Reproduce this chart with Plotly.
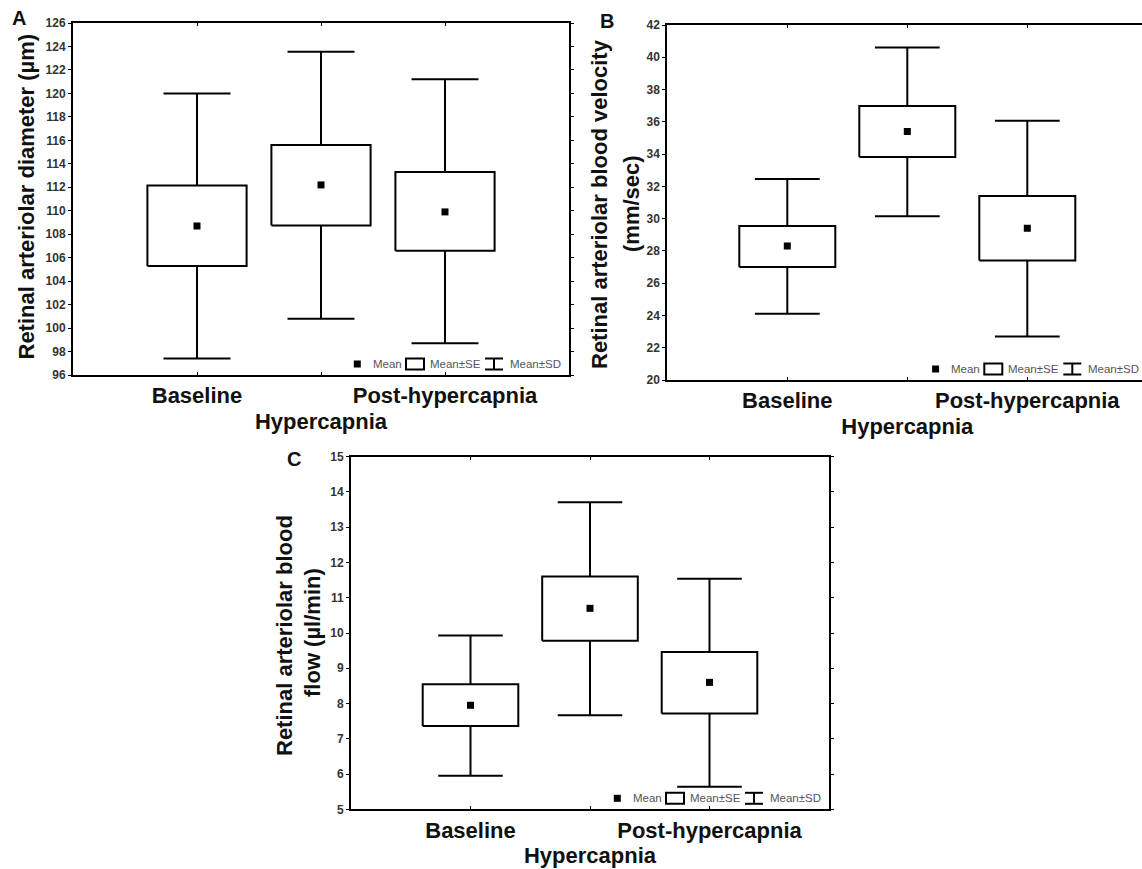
import plotly.graph_objects as go

W, H = 1142, 869

categories = ["Baseline", "Hypercapnia", "Post-hypercapnia"]
cat_pos = [0, 1, 2]
# staggered tick labels: first row (Baseline, Post-hypercapnia), second row (Hypercapnia)
row1_text = ["Baseline", "", "Post-hypercapnia"]
row2_pos = [1]
row2_text = ["Hypercapnia"]

# Panel A: retinal arteriolar diameter (µm)
diam_mean = [108.7, 112.2, 109.9]
diam_se_lo = [105.3, 108.75, 106.6]
diam_se_hi = [112.15, 115.6, 113.3]
diam_sd_lo = [97.4, 100.8, 98.7]
diam_sd_hi = [120.0, 123.55, 121.2]

# Panel B: retinal arteriolar blood velocity (mm/sec)
vel_mean = [28.3, 35.4, 29.4]
vel_se_lo = [27.0, 33.82, 27.4]
vel_se_hi = [29.55, 36.98, 31.4]
vel_sd_lo = [24.1, 30.15, 22.7]
vel_sd_hi = [32.45, 40.6, 36.07]

# Panel C: retinal arteriolar blood flow (µl/min)
flow_mean = [7.95, 10.7, 8.6]
flow_se_lo = [7.36, 9.78, 7.72]
flow_se_hi = [8.55, 11.6, 9.46]
flow_sd_lo = [5.95, 7.67, 5.64]
flow_sd_hi = [9.93, 13.71, 11.54]

BOX_HALF = 0.4
CAP_HALF = 0.27
LW = 2
FONT = "Liberation Sans, Arial, sans-serif"
TICKFONT = dict(family=FONT, size=22, color="#111", weight="bold")

fig = go.Figure()


def add_panel(xa, ya, xa_row2, mean, se_lo, se_hi, sd_lo, sd_hi):
    wx, wy = [], []
    for i, lo, hi, slo, shi in zip(cat_pos, se_lo, se_hi, sd_lo, sd_hi):
        wx += [i, i, None, i, i, None]
        wy += [hi, shi, None, lo, slo, None]
        wx += [i - CAP_HALF, i + CAP_HALF, None, i - CAP_HALF, i + CAP_HALF, None]
        wy += [shi, shi, None, slo, slo, None]
    fig.add_trace(go.Scatter(x=wx, y=wy, mode="lines", xaxis=xa, yaxis=ya,
                             line=dict(color="black", width=LW),
                             hoverinfo="skip", showlegend=False))
    bx, by = [], []
    for i, lo, hi in zip(cat_pos, se_lo, se_hi):
        bx += [i - BOX_HALF, i + BOX_HALF, i + BOX_HALF, i - BOX_HALF, i - BOX_HALF, None]
        by += [lo, lo, hi, hi, lo, None]
    fig.add_trace(go.Scatter(x=bx, y=by, mode="lines", xaxis=xa, yaxis=ya,
                             fill="toself", fillcolor="white",
                             line=dict(color="black", width=LW),
                             hoverinfo="skip", showlegend=False))
    fig.add_trace(go.Scatter(x=cat_pos, y=mean, mode="markers", xaxis=xa, yaxis=ya,
                             marker=dict(symbol="square", size=7, color="black"),
                             showlegend=False))
    # invisible trace so the second-row label axis is drawn
    fig.add_trace(go.Scatter(x=cat_pos, y=mean, mode="markers", xaxis=xa_row2, yaxis=ya,
                             marker=dict(size=1, opacity=0), hoverinfo="skip",
                             showlegend=False))


add_panel("x", "y", "x4", diam_mean, diam_se_lo, diam_se_hi, diam_sd_lo, diam_sd_hi)
add_panel("x2", "y2", "x5", vel_mean, vel_se_lo, vel_se_hi, vel_sd_lo, vel_sd_hi)
add_panel("x3", "y3", "x6", flow_mean, flow_se_lo, flow_se_hi, flow_sd_lo, flow_sd_hi)


def px_x(p):
    return p / W


def px_y(p):
    return 1 - p / H


def xaxis(domain, rng, anchor):
    return dict(domain=domain, range=rng, anchor=anchor, tickmode="array",
                tickvals=cat_pos, ticktext=row1_text, showgrid=False,
                zeroline=False, showline=True, linewidth=LW, linecolor="black",
                mirror="ticks", ticks="inside", ticklen=3, tickwidth=1,
                tickcolor="black", tickangle=0, ticklabeloverflow="allow",
                tickfont=TICKFONT)


def xaxis_row2(over, rng, anchor):
    return dict(overlaying=over, range=rng, anchor=anchor, side="bottom",
                tickmode="array", tickvals=row2_pos, ticktext=row2_text,
                showgrid=False, zeroline=False, showline=False, ticks="",
                tickangle=0, ticklabeloverflow="allow", ticklabelstandoff=31,
                tickfont=TICKFONT)


def yaxis(domain, rng, dtick, anchor, mirror="ticks"):
    return dict(domain=domain, range=rng, dtick=dtick, tick0=rng[0], anchor=anchor,
                showgrid=False, zeroline=False, showline=True, linewidth=LW,
                linecolor="black", mirror=mirror, ticks="outside", ticklen=3,
                tickwidth=1, tickcolor="black",
                tickfont=dict(family=FONT, size=12, color="#333", weight="bold"))


# panel frames in pixels
A = dict(l=73, r=569, t=23, b=375)
B = dict(l=667.3, r=1147.3, t=25, b=380)
C = dict(l=351, r=829, t=456.7, b=809.3)

b_rng = [-1, -1 + (W - B["l"]) / ((B["r"] - B["l"]) / 4)]

fig.update_layout(
    xaxis=xaxis([px_x(A["l"]), px_x(A["r"])], [-1, 3], "y"),
    yaxis=yaxis([px_y(A["b"]), px_y(A["t"])], [96, 126], 2, "x"),
    xaxis2=xaxis([px_x(B["l"]), 1.0], b_rng, "y2"),
    yaxis2=yaxis([px_y(B["b"]), px_y(B["t"])], [20, 42], 2, "x2", mirror=False),
    xaxis3=xaxis([px_x(C["l"]), px_x(C["r"])], [-1, 3], "y3"),
    yaxis3=yaxis([px_y(C["b"]), px_y(C["t"])], [5, 15], 1, "x3"),
    xaxis4=xaxis_row2("x", [-1, 3], "y"),
    xaxis5=xaxis_row2("x2", b_rng, "y2"),
    xaxis6=xaxis_row2("x3", [-1, 3], "y3"),
)

annotations = []
shapes = []


def ann(text, x, y, size, angle=0, xanchor="center", color="#111", bold=True):
    annotations.append(dict(
        text=f"<b>{text}</b>" if bold else text, x=px_x(x), y=px_y(y),
        xref="paper", yref="paper", showarrow=False, textangle=angle,
        xanchor=xanchor, yanchor="middle",
        font=dict(family=FONT, size=size, color=color)))


# panel letters
ann("A", 19, 18, 20)
ann("B", 607, 21, 20)
ann("C", 294, 459, 20)

# y-axis titles
ann("Retinal arteriolar diameter (µm)", 26.5, 197, 22, angle=-90)
ann("Retinal arteriolar blood velocity", 599.5, 204.5, 22, angle=-90)
ann("(mm/sec)", 631, 204, 22, angle=-90)
ann("Retinal arteriolar blood", 284, 636, 22, angle=-90)
ann("flow (µl/min)", 312, 632, 22, angle=-90)


def legend(frame):
    r = frame["r"]
    cy = frame["b"] - 11
    shapes.append(dict(type="rect", xref="paper", yref="paper",
                       x0=px_x(r - 215.2), x1=px_x(r - 208.2),
                       y0=px_y(cy + 3.5), y1=px_y(cy - 3.5),
                       fillcolor="black", line=dict(width=0)))
    ann("Mean", r - 198, cy, 11.5, xanchor="left", color="#555", bold=False)
    shapes.append(dict(type="rect", xref="paper", yref="paper",
                       x0=px_x(r - 163), x1=px_x(r - 145),
                       y0=px_y(cy + 5.5), y1=px_y(cy - 5.5),
                       fillcolor="white", line=dict(color="black", width=2)))
    ann("Mean±SE", r - 141.5, cy, 11.5, xanchor="left", color="#555", bold=False)
    for (xa, ya, xb, yb) in [(r - 84, cy - 5.5, r - 66, cy - 5.5),
                             (r - 84, cy + 5.5, r - 66, cy + 5.5),
                             (r - 75, cy - 5.5, r - 75, cy + 5.5)]:
        shapes.append(dict(type="line", xref="paper", yref="paper",
                           x0=px_x(xa), y0=px_y(ya), x1=px_x(xb), y1=px_y(yb),
                           line=dict(color="black", width=2)))
    ann("Mean±SD", r - 61.5, cy, 11.5, xanchor="left", color="#555", bold=False)


legend(A)
legend(B)
legend(C)

fig.update_layout(
    width=W, height=H,
    margin=dict(l=0, r=0, t=0, b=0),
    paper_bgcolor="white", plot_bgcolor="white",
    template="none",
    showlegend=False,
    annotations=annotations,
    shapes=shapes,
)

fig.write_html("out.html")
